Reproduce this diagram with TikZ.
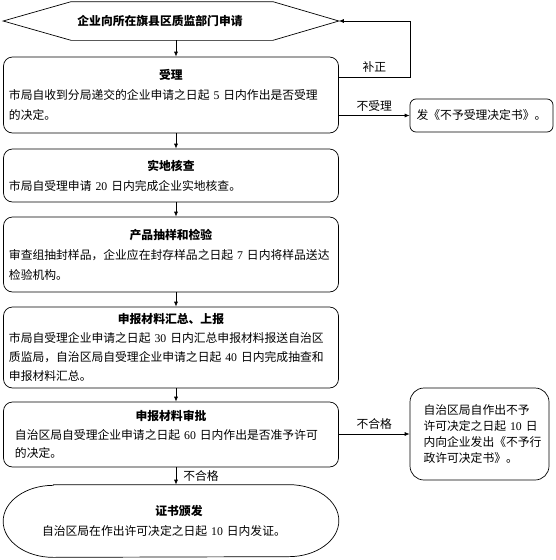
\documentclass[tikz,border=0pt]{standalone}
\usepackage{fontspec}
\setmainfont{Noto Sans CJK SC}
\newfontfamily\dg{Liberation Serif}
\usetikzlibrary{arrows.meta,calc}
\begin{document}
\begin{tikzpicture}[x=1pt,y=-1pt,
  font=\fontsize{11.8}{20}\selectfont,
  line width=0.7pt,
  box/.style={draw, rounded corners=9pt, text width=324pt, inner xsep=5.5pt, inner ysep=0pt,
              align=left, minimum width=335pt},
  sidebox/.style={draw, align=left, inner ysep=0pt},
  arr/.style={-{Latex[length=5pt,width=4pt]}},
  lbl/.style={inner sep=1pt}]
\useasboundingbox (0,0) rectangle (556,560);

% start hexagon
\node[minimum width=335pt, minimum height=38pt, inner sep=0pt] (hex) at (171,21) {};
\draw ($(hex.west)$) -- ($(hex.north west)+(68,0)$) -- ($(hex.north east)+(-66,0)$) -- (hex.east)
      -- ($(hex.south east)+(-66,0)$) -- ($(hex.south west)+(68,0)$) -- cycle;
\node[inner sep=0pt, font=\fontsize{11.8}{20}\selectfont\bfseries] (hextext) at (160,21) {企业向所在旗县区质监部门申请};

% main boxes
\node[box, minimum height=76pt] (box1) at (171,95)
  {\makebox[324pt]{\bfseries 受理}\\
   市局自收到分局递交的企业申请之日起~{\dg 5}~日内作出是否受理\\
   的决定。};
\node[box, minimum height=53pt] (box2) at (171,175.5)
  {\makebox[324pt]{\bfseries 实地核查}\\
   市局自受理申请~{\dg 20}~日内完成企业实地核查。};
\node[box, minimum height=75pt] (box3) at (171,254.5)
  {\makebox[324pt]{\bfseries 产品抽样和检验}\\
   审查组抽封样品，企业应在封存样品之日起~{\dg 7}~日内将样品送达\\
   检验机构。};
\node[box, minimum height=81pt] (box4) at (171,347.5)
  {\makebox[324pt]{\bfseries 申报材料汇总、上报}\\[-1pt]
   市局自受理企业申请之日起~{\dg 30}~日内汇总申报材料报送自治区\\[-1pt]
   质监局，自治区局自受理企业申请之日起~{\dg 40}~日内完成抽查和\\[-1pt]
   申报材料汇总。};
\node[box, minimum height=65pt] (box5) at (171,434.5)
  {\makebox[324pt]{\bfseries 申报材料审批}\\[-1pt]
   \hspace*{6pt}自治区局自受理企业申请之日起~{\dg 60}~日内作出是否准予许可\\[-2pt]
   \hspace*{6pt}的决定。};

% certificate (stadium)
\node[minimum width=335pt, minimum height=72pt, inner sep=0pt] (cert) at (171,521) {};
\draw ($(cert.north west)+(50,0)$) -- ($(cert.north east)+(-50,0)$)
      arc[start angle=-90, end angle=90, x radius=50, y radius=36]
      -- ($(cert.south west)+(50,0)$)
      arc[start angle=90, end angle=270, x radius=50, y radius=36] -- cycle;
\node[text width=274pt, align=left, inner sep=0pt] (certtext) at (179,521)
  {\makebox[274pt]{\bfseries 证书颁发}\\
   自治区局在作出许可决定之日起~{\dg 10}~日内发证。};

% side boxes
\node[sidebox, rounded corners=6pt, minimum width=143pt, minimum height=33pt, align=center] (rej) at (481.5,115.5)
  {发《不予受理决定书》。};
\node[sidebox, rounded corners=14pt, minimum width=139pt, minimum height=92pt, text width=112pt, inner xsep=13.5pt,
      font=\fontsize{11.8}{16}\selectfont] (rb) at (479.5,434)
  {自治区局自作出不予\\
   许可决定之日起~{\dg 10}~日\\
   内向企业发出《不予行\\
   政许可决定书》。};

% vertical connectors
\coordinate (ax) at (176,0);
\draw[arr] (hex.south -| ax) -- (box1.north -| ax);
\draw[arr] (box1.south -| ax) -- (box2.north -| ax);
\draw[arr] (box2.south -| ax) -- (box3.north -| ax);
\draw[arr] (box3.south -| ax) -- (box4.north -| ax);
\draw[arr] (box4.south -| ax) -- (box5.north -| ax);
\draw[arr] (box5.south -| ax) -- node[lbl, right=6pt] (l4) {不合格} (cert.north -| ax);

% side connectors
\coordinate (fb) at (410,77);
\draw[arr] (box1.east |- fb) -- node[lbl, above=3pt] (l1) {补正} (fb) |- (hex.east);
\draw[arr] (rej.west -| box1.east) -- node[lbl, above=3pt] (l2) {不受理} (rej.west);
\draw[arr] (rb.west -| box5.east) -- node[lbl, above=3pt] (l3) {不合格} (rb.west);
\end{tikzpicture}
\end{document}
